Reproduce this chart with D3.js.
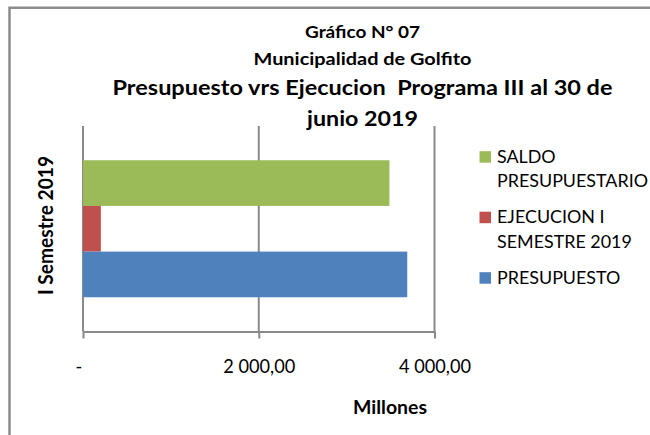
<!DOCTYPE html>
<html><head><meta charset="utf-8">
<script src="https://cdn.jsdelivr.net/npm/d3@7"></script>
<style>
body{margin:0;background:#fff}
svg{display:block}
text{font-family:Lato,"Open Sans",sans-serif;fill:#000}
</style>
</head><body>
<svg id="c" width="650" height="435"></svg>
<script>
// ---- data ----
const categories = ["I Semestre 2019"];
const seriesNames = ["PRESUPUESTO", "EJECUCION I SEMESTRE 2019", "SALDO PRESUPUESTARIO"];
const seriesValues = [3690, 203, 3487];
const seriesColors = ["#4F81BD", "#C0504D", "#9BBB59"];
const xTicks = [0, 2000, 4000];
const xTickLabels = ["-", "2 000,00", "4 000,00"];
const titleLines = ["Gráfico N° 07", "Municipalidad de Golfito", "Presupuesto vrs Ejecucion  Programa III al 30 de", "junio 2019"];
const xAxisTitle = "Millones";
const legendLines = [["SALDO", "PRESUPUESTARIO"], ["EJECUCION I", "SEMESTRE 2019"], ["PRESUPUESTO"]];

// ---- layout ----
const svg = d3.select("#c");
const plot = {left: 83, right: 434.5, top: 126, bottom: 331.5};
const gridColor = "#898989";
const CAP = 0.7165;

// set font size by cap height, then fit to the measured width
function fitBox(sel, w, cap) {
  sel.style("font-size", (cap / CAP) + "px");
  const len = sel.node().getComputedTextLength();
  sel.attr("textLength", w).attr("lengthAdjust", "spacingAndGlyphs");
  return w / len;
}
function squeeze(sel, ratio) {
  const len = sel.node().getComputedTextLength();
  sel.attr("textLength", len * ratio).attr("lengthAdjust", "spacingAndGlyphs");
}

// frame
svg.append("rect").attr("x", 9.5).attr("y", 7.75).attr("width", 700).attr("height", 500)
  .attr("fill", "none").attr("stroke", "#8c8c8c").attr("stroke-width", 2.5);

// title
const titleCfg = [
  {w: 115, y: 37.5, cap: 12.8},
  {w: 218, y: 65, cap: 12.8},
  {w: 500, y: 95, cap: 15.5},
  {w: 111, y: 125.5, cap: 15.5}
];
titleLines.forEach((t, i) => {
  const s = svg.append("text").attr("x", 362.5).attr("y", titleCfg[i].y)
    .attr("text-anchor", "middle").style("font-weight", "bold").style("white-space", "pre").text(t);
  fitBox(s, titleCfg[i].w, titleCfg[i].cap);
});

// scales
const x = d3.scaleLinear().domain([0, 4000]).range([plot.left, plot.right]);
const y0 = d3.scaleBand().domain(categories).range([plot.top, plot.bottom]);
const order = [2, 1, 0]; // top to bottom
const y1 = d3.scaleBand().domain(order).range([0, y0.bandwidth()]).paddingInner(0).paddingOuter(0.75);

// gridlines
svg.append("g").selectAll("line").data(xTicks).join("line")
  .attr("x1", d => x(d)).attr("x2", d => x(d))
  .attr("y1", plot.top).attr("y2", plot.bottom)
  .attr("stroke", gridColor).attr("stroke-width", 2);

// bars
const cat = categories[0];
svg.append("g").selectAll("rect").data(order).join("rect")
  .attr("x", x(0))
  .attr("y", i => y0(cat) + y1(i))
  .attr("width", i => x(seriesValues[i]) - x(0))
  .attr("height", y1.bandwidth())
  .attr("fill", i => seriesColors[i]);

// x axis
const ax = svg.append("g").attr("transform", `translate(0,${plot.bottom})`)
  .call(d3.axisBottom(x).tickValues(xTicks).tickSize(7).tickSizeOuter(0)
    .tickFormat((d, i) => xTickLabels[i]));
ax.select(".domain").attr("stroke", gridColor).attr("stroke-width", 2);
ax.selectAll(".tick line").attr("stroke", gridColor).attr("stroke-width", 2);
const tickTexts = ax.selectAll(".tick text").attr("y", 41).attr("dy", 0)
  .style("font-family", 'Lato,"Open Sans",sans-serif').attr("fill", "#000")
  .attr("dx", (d, i) => i === 0 ? -4.5 : 0);
let tickRatio = 1;
tickTexts.each(function(d, i) {
  if (i === 1) tickRatio = fitBox(d3.select(this), 72, 13.5);
});
tickTexts.each(function(d, i) {
  if (i !== 1) {
    const s = d3.select(this).style("font-size", (13.5 / CAP) + "px");
    squeeze(s, tickRatio);
  }
});

// x axis title
const xt = svg.append("text").attr("x", 390).attr("y", 414).attr("text-anchor", "middle")
  .style("font-weight", "bold").text(xAxisTitle);
fitBox(xt, 74, 13.5);

// y axis title
const yt = svg.append("text").attr("transform", "translate(52.5,225.5) rotate(-90)")
  .attr("text-anchor", "middle").style("font-weight", "bold").text(categories[0]);
fitBox(yt, 139, 15);

// legend
const legendColors = [seriesColors[2], seriesColors[1], seriesColors[0]];
const probe = svg.append("text").text("PRESUPUESTARIO");
const legRatio = fitBox(probe, 151, 12.8);
probe.remove();
let by = 162.7;
legendLines.forEach((lines, k) => {
  svg.append("rect").attr("x", 479.5).attr("y", by - 11.5).attr("width", 11.5).attr("height", 11.5)
    .attr("fill", legendColors[k]);
  lines.forEach((ln, j) => {
    const s = svg.append("text").attr("x", 497).attr("y", by + j * 24.5)
      .style("font-size", (12.8 / CAP) + "px").text(ln);
    squeeze(s, legRatio);
  });
  by += (lines.length - 1) * 24.5 + 36;
});
</script>
</body></html>
